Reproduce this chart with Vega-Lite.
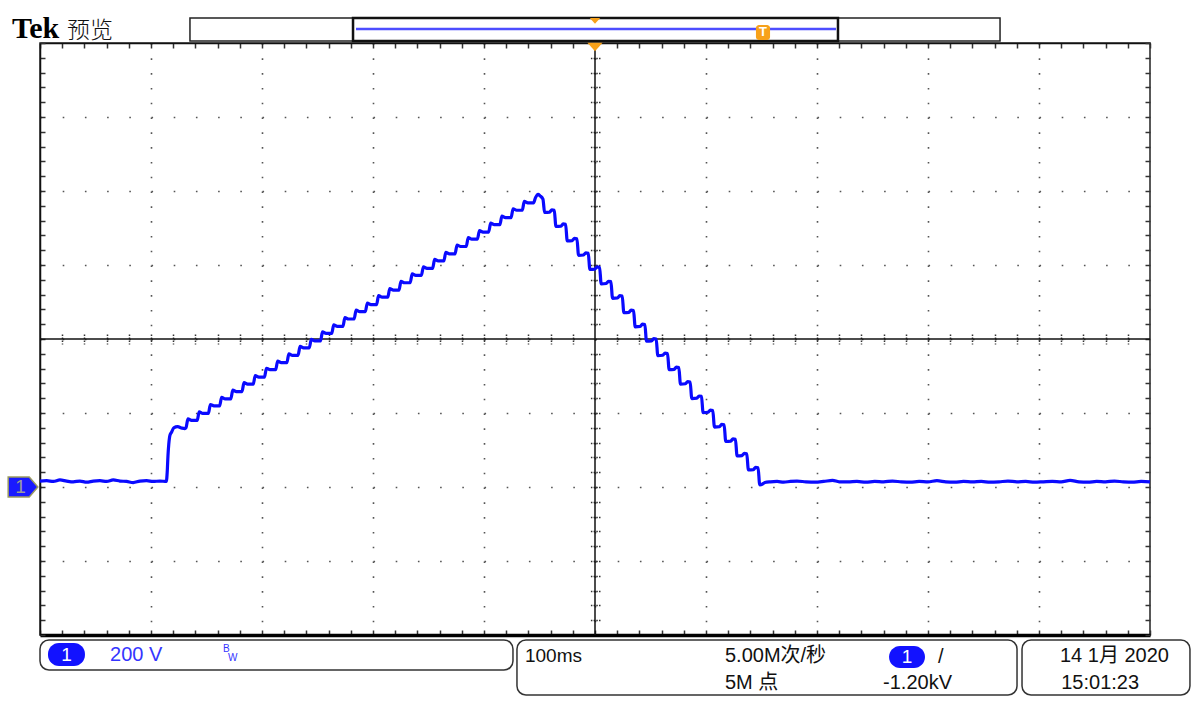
{
  "$schema": "https://vega.github.io/schema/vega-lite/v6.json",
  "width": 1110,
  "height": 592,
  "autosize": {"type": "none"},
  "padding": {"left": 40, "top": 43, "right": 50, "bottom": 84},
  "background": "white",
  "config": {"view": {"stroke": "#222", "strokeWidth": 1.5}},
  "datasets": {
    "trace": [
      {"t": -500, "v": 16}, {"t": -494, "v": 17}, {"t": -488, "v": 15}, {"t": -482, "v": 19}, {"t": -476, "v": 16},
      {"t": -470, "v": 14}, {"t": -464, "v": 16}, {"t": -458, "v": 13}, {"t": -452, "v": 16}, {"t": -446, "v": 17},
      {"t": -440, "v": 15}, {"t": -434, "v": 19}, {"t": -428, "v": 16}, {"t": -422, "v": 15}, {"t": -416, "v": 12},
      {"t": -410, "v": 16}, {"t": -404, "v": 17}, {"t": -398, "v": 15}, {"t": -392, "v": 16}, {"t": -386.2, "v": 15},
      {"t": -385.4, "v": 40}, {"t": -384.7, "v": 85}, {"t": -384, "v": 115}, {"t": -382.9, "v": 140}, {"t": -381.5, "v": 148},
      {"t": -379.5, "v": 160}, {"t": -376, "v": 163}, {"t": -372, "v": 159}, {"t": -369.5, "v": 158},
      {"t": -368.5, "v": 160}, {"t": -366.7, "v": 184}, {"t": -363.5, "v": 180},
      {"t": -358.4, "v": 180}, {"t": -356.6, "v": 203}, {"t": -353.4, "v": 199},
      {"t": -348.3, "v": 199}, {"t": -346.5, "v": 223}, {"t": -343.3, "v": 219},
      {"t": -338.2, "v": 219}, {"t": -336.4, "v": 242}, {"t": -333.2, "v": 238},
      {"t": -328.1, "v": 238}, {"t": -326.3, "v": 262}, {"t": -323.1, "v": 258},
      {"t": -318, "v": 258}, {"t": -316.2, "v": 282}, {"t": -313, "v": 278},
      {"t": -307.9, "v": 278}, {"t": -306.1, "v": 301}, {"t": -302.9, "v": 297},
      {"t": -297.8, "v": 297}, {"t": -296, "v": 321}, {"t": -292.8, "v": 317},
      {"t": -287.7, "v": 317}, {"t": -285.9, "v": 340}, {"t": -282.7, "v": 336},
      {"t": -277.6, "v": 336}, {"t": -275.8, "v": 360}, {"t": -272.6, "v": 356},
      {"t": -267.5, "v": 356}, {"t": -265.7, "v": 380}, {"t": -262.5, "v": 376},
      {"t": -257.4, "v": 376}, {"t": -255.6, "v": 399}, {"t": -252.4, "v": 395},
      {"t": -247.3, "v": 395}, {"t": -245.5, "v": 419}, {"t": -242.3, "v": 415},
      {"t": -237.2, "v": 415}, {"t": -235.4, "v": 438}, {"t": -232.2, "v": 434},
      {"t": -227.1, "v": 434}, {"t": -225.3, "v": 458}, {"t": -222.1, "v": 454},
      {"t": -217, "v": 454}, {"t": -215.2, "v": 478}, {"t": -212, "v": 474},
      {"t": -206.9, "v": 474}, {"t": -205.1, "v": 497}, {"t": -201.9, "v": 493},
      {"t": -196.8, "v": 493}, {"t": -195, "v": 517}, {"t": -191.8, "v": 513},
      {"t": -186.7, "v": 513}, {"t": -184.9, "v": 536}, {"t": -181.7, "v": 532},
      {"t": -176.6, "v": 532}, {"t": -174.8, "v": 556}, {"t": -171.6, "v": 552},
      {"t": -166.5, "v": 552}, {"t": -164.7, "v": 576}, {"t": -161.5, "v": 572},
      {"t": -156.4, "v": 572}, {"t": -154.6, "v": 595}, {"t": -151.4, "v": 591},
      {"t": -146.3, "v": 591}, {"t": -144.5, "v": 615}, {"t": -141.3, "v": 611},
      {"t": -136.2, "v": 611}, {"t": -134.4, "v": 634}, {"t": -131.2, "v": 630},
      {"t": -126.1, "v": 630}, {"t": -124.3, "v": 654}, {"t": -121.1, "v": 650},
      {"t": -116, "v": 650}, {"t": -114.2, "v": 674}, {"t": -111, "v": 670},
      {"t": -105.9, "v": 670}, {"t": -104.1, "v": 693}, {"t": -100.9, "v": 689},
      {"t": -95.8, "v": 689}, {"t": -94, "v": 713}, {"t": -90.8, "v": 709},
      {"t": -85.7, "v": 709}, {"t": -83.9, "v": 732}, {"t": -80.7, "v": 728},
      {"t": -75.6, "v": 728}, {"t": -73.8, "v": 752}, {"t": -70.6, "v": 748},
      {"t": -65.5, "v": 748}, {"t": -63.7, "v": 772}, {"t": -60.5, "v": 768},
      {"t": -55.4, "v": 768}, {"t": -53.6, "v": 782}, {"t": -51.3, "v": 791}, {"t": -49.5, "v": 787},
      {"t": -46.9, "v": 778}, {"t": -45.4, "v": 742}, {"t": -40.9, "v": 743}, {"t": -38.9, "v": 749},
      {"t": -36.7, "v": 748}, {"t": -35.2, "v": 704}, {"t": -30.7, "v": 705}, {"t": -28.7, "v": 711},
      {"t": -26.5, "v": 710}, {"t": -25, "v": 665}, {"t": -20.5, "v": 666}, {"t": -18.5, "v": 672},
      {"t": -16.3, "v": 671}, {"t": -14.8, "v": 626}, {"t": -10.3, "v": 627}, {"t": -8.3, "v": 633},
      {"t": -6.1, "v": 632}, {"t": -4.6, "v": 588}, {"t": -0.1, "v": 589}, {"t": 1.9, "v": 595},
      {"t": 4.1, "v": 594}, {"t": 5.6, "v": 549}, {"t": 10.1, "v": 550}, {"t": 12.1, "v": 556},
      {"t": 14.3, "v": 555}, {"t": 15.8, "v": 510}, {"t": 20.3, "v": 511}, {"t": 22.3, "v": 517},
      {"t": 24.5, "v": 516}, {"t": 26, "v": 471}, {"t": 30.5, "v": 472}, {"t": 32.5, "v": 478},
      {"t": 34.7, "v": 477}, {"t": 36.2, "v": 433}, {"t": 40.7, "v": 434}, {"t": 42.7, "v": 440},
      {"t": 44.9, "v": 439}, {"t": 46.4, "v": 394}, {"t": 50.9, "v": 395}, {"t": 52.9, "v": 401},
      {"t": 55.1, "v": 400}, {"t": 56.6, "v": 355}, {"t": 61.1, "v": 356}, {"t": 63.1, "v": 362},
      {"t": 65.3, "v": 361}, {"t": 66.8, "v": 317}, {"t": 71.3, "v": 318}, {"t": 73.3, "v": 324},
      {"t": 75.5, "v": 323}, {"t": 77, "v": 278}, {"t": 81.5, "v": 279}, {"t": 83.5, "v": 285},
      {"t": 85.7, "v": 284}, {"t": 87.2, "v": 239}, {"t": 91.7, "v": 240}, {"t": 93.7, "v": 246},
      {"t": 95.9, "v": 245}, {"t": 97.4, "v": 201}, {"t": 101.9, "v": 202}, {"t": 103.9, "v": 208},
      {"t": 106.1, "v": 207}, {"t": 107.6, "v": 162}, {"t": 112.1, "v": 163}, {"t": 114.1, "v": 169},
      {"t": 116.3, "v": 168}, {"t": 117.8, "v": 123}, {"t": 122.3, "v": 124}, {"t": 124.3, "v": 130},
      {"t": 126.5, "v": 129}, {"t": 128, "v": 84}, {"t": 132.5, "v": 85}, {"t": 134.5, "v": 91},
      {"t": 136.7, "v": 90}, {"t": 138.2, "v": 46}, {"t": 142.7, "v": 47}, {"t": 144.7, "v": 53},
      {"t": 146.9, "v": 52}, {"t": 148.4, "v": 6}, {"t": 151, "v": 8}, {"t": 153, "v": 12},
      {"t": 158, "v": 14}, {"t": 164, "v": 15}, {"t": 170, "v": 13}, {"t": 176, "v": 15}, {"t": 182, "v": 16},
      {"t": 190, "v": 14}, {"t": 198, "v": 13}, {"t": 206, "v": 15}, {"t": 214, "v": 18}, {"t": 220, "v": 14},
      {"t": 228, "v": 14}, {"t": 236, "v": 15}, {"t": 244, "v": 13}, {"t": 252, "v": 15}, {"t": 260, "v": 14},
      {"t": 268, "v": 16}, {"t": 276, "v": 14}, {"t": 284, "v": 13}, {"t": 292, "v": 15}, {"t": 300, "v": 14},
      {"t": 308, "v": 17}, {"t": 316, "v": 14}, {"t": 324, "v": 13}, {"t": 332, "v": 15}, {"t": 340, "v": 14},
      {"t": 348, "v": 15}, {"t": 356, "v": 13}, {"t": 364, "v": 14}, {"t": 372, "v": 16}, {"t": 380, "v": 14},
      {"t": 388, "v": 15}, {"t": 396, "v": 13}, {"t": 404, "v": 14}, {"t": 412, "v": 15}, {"t": 420, "v": 14},
      {"t": 428, "v": 18}, {"t": 436, "v": 14}, {"t": 444, "v": 13}, {"t": 452, "v": 15}, {"t": 460, "v": 14},
      {"t": 468, "v": 16}, {"t": 476, "v": 14}, {"t": 484, "v": 13}, {"t": 492, "v": 15}, {"t": 500, "v": 14}
    ]
  },
  "resolve": {"axis": {"x": "independent", "y": "independent"}},
  "layer": [
    {
      "data": {"values": [{}]},
      "mark": {"type": "rule", "color": "#111", "strokeWidth": 1.5},
      "encoding": {
        "x": {"datum": 0, "type": "quantitative", "scale": {"domain": [-500, 500], "nice": false, "zero": false},
          "axis": {"orient": "top", "title": null, "labels": false, "grid": false, "domain": true, "domainColor": "#111", "domainWidth": 1.5,
            "ticks": true, "tickSize": -5, "tickColor": "#333", "tickWidth": 1.5,
            "values": [-500,-480,-460,-440,-420,-400,-380,-360,-340,-320,-300,-280,-260,-240,-220,-200,-180,-160,-140,-120,-100,-80,-60,-40,-20,0,20,40,60,80,100,120,140,160,180,200,220,240,260,280,300,320,340,360,380,400,420,440,460,480,500]}},
        "y": {"datum": -400, "type": "quantitative", "scale": {"domain": [-400, 1200], "nice": false, "zero": false},
          "axis": {"orient": "right", "title": null, "labels": false, "grid": false, "domain": false,
            "ticks": true, "tickSize": -5, "tickColor": "#333", "tickWidth": 1.5,
            "values": [-400,-360,-320,-280,-240,-200,-160,-120,-80,-40,0,40,80,120,160,200,240,280,320,360,400,440,480,520,560,600,640,680,720,760,800,840,880,920,960,1000,1040,1080,1120,1160,1200]}},
        "y2": {"datum": 1200}
      }
    },
    {
      "data": {"values": [{}]},
      "mark": {"type": "rule", "color": "#111", "strokeWidth": 1.5},
      "encoding": {
        "x": {"datum": -500, "type": "quantitative",
          "axis": {"orient": "bottom", "offset": -301, "title": null, "labels": false, "grid": false, "domain": false,
            "ticks": true, "tickSize": 10, "tickColor": "#333", "tickWidth": 1.5, "tickDash": [1.5, 1.5],
            "values": [-480,-460,-440,-420,-400,-380,-360,-340,-320,-300,-280,-260,-240,-220,-200,-180,-160,-140,-120,-100,-80,-60,-40,-20,20,40,60,80,100,120,140,160,180,200,220,240,260,280,300,320,340,360,380,400,420,440,460,480]}},
        "x2": {"datum": 500},
        "y": {"datum": 400, "type": "quantitative",
          "axis": {"orient": "left", "offset": -560, "title": null, "labels": false, "grid": false, "domain": false,
            "ticks": true, "tickSize": 10, "tickColor": "#333", "tickWidth": 1.5, "tickDash": [1.5, 1.2],
            "values": [-360,-320,-280,-240,-200,-160,-120,-80,-40,0,40,80,120,160,200,240,280,320,360,440,480,520,560,600,640,680,720,760,800,840,880,920,960,1000,1040,1080,1120,1160]}}
      }
    },
    {
      "data": {"name": "trace"},
      "mark": {"type": "line", "color": "#0a0aff", "strokeWidth": 3.2, "strokeJoin": "round", "interpolate": "monotone"},
      "encoding": {
        "x": {"field": "t", "type": "quantitative",
          "axis": {"orient": "bottom", "title": null, "labels": false, "domain": true, "domainColor": "#000", "domainWidth": 3.5,
            "ticks": true, "tickSize": -5, "tickColor": "#333", "tickWidth": 1.5,
            "grid": true, "gridColor": "#555", "gridWidth": 1.6, "gridDash": [1.6, 13.2],
            "gridOpacity": {"condition": {"test": "datum.value % 100 === 0 && datum.value > -500 && datum.value < 500", "value": 1}, "value": 0},
            "values": [-500,-480,-460,-440,-420,-400,-380,-360,-340,-320,-300,-280,-260,-240,-220,-200,-180,-160,-140,-120,-100,-80,-60,-40,-20,0,20,40,60,80,100,120,140,160,180,200,220,240,260,280,300,320,340,360,380,400,420,440,460,480,500]}},
        "y": {"field": "v", "type": "quantitative",
          "axis": {"orient": "left", "title": null, "labels": false, "domain": true, "domainColor": "#111", "domainWidth": 1.5,
            "ticks": true, "tickSize": -5, "tickColor": "#333", "tickWidth": 1.5,
            "grid": true, "gridColor": "#555", "gridWidth": 1.6, "gridDash": [1.6, 20.6],
            "gridOpacity": {"condition": {"test": "datum.value % 200 === 0 && datum.value > -400 && datum.value < 1200", "value": 1}, "value": 0},
            "values": [-400,-360,-320,-280,-240,-200,-160,-120,-80,-40,0,40,80,120,160,200,240,280,320,360,400,440,480,520,560,600,640,680,720,760,800,840,880,920,960,1000,1040,1080,1120,1160,1200]}}
      }
    },
    {
      "data": {"values": [{}]},
      "mark": {"type": "rect", "fill": "white", "stroke": "#222", "strokeWidth": 1.5},
      "encoding": {"x": {"datum": -364.9, "type": "quantitative", "axis": null}, "x2": {"datum": 364.9},
        "y": {"datum": 1267.6, "type": "quantitative", "axis": null}, "y2": {"datum": 1205.4}}
    },
    {
      "data": {"values": [{}]},
      "mark": {"type": "rect", "fill": "white", "fillOpacity": 0, "stroke": "#111", "strokeWidth": 2.5},
      "encoding": {"x": {"datum": -218.0, "type": "quantitative", "axis": null}, "x2": {"datum": 218.9},
        "y": {"datum": 1267.6, "type": "quantitative", "axis": null}, "y2": {"datum": 1205.4}}
    },
    {
      "data": {"values": [{}]},
      "mark": {"type": "rule", "color": "#4d4dff", "strokeWidth": 2.5},
      "encoding": {"x": {"datum": -215.3, "type": "quantitative", "axis": null}, "x2": {"datum": 217.1},
        "y": {"datum": 1237.8, "type": "quantitative", "axis": null}}
    },
    {
      "data": {"values": [{}]},
      "mark": {"type": "point", "shape": "M -1 -0.55 L 1 -0.55 L 0 0.55 Z", "filled": true, "color": "#f7a11a", "opacity": 1, "size": 110},
      "encoding": {"x": {"datum": 0, "type": "quantitative", "axis": null}, "y": {"datum": 1259.5, "type": "quantitative", "axis": null}}
    },
    {
      "data": {"values": [{}]},
      "mark": {"type": "rect", "fill": "#f7a11a", "cornerRadius": 3},
      "encoding": {"x": {"datum": 145.0, "type": "quantitative", "axis": null}, "x2": {"datum": 157.7},
        "y": {"datum": 1248.6, "type": "quantitative", "axis": null}, "y2": {"datum": 1208.1}}
    },
    {
      "data": {"values": [{}]},
      "mark": {"type": "text", "text": "T", "font": "Liberation Sans", "fontWeight": "bold", "fontSize": 13, "color": "white", "align": "center", "baseline": "middle"},
      "encoding": {"x": {"datum": 151.4, "type": "quantitative", "axis": null}, "y": {"datum": 1228.4, "type": "quantitative", "axis": null}}
    },
    {
      "data": {"values": [{}]},
      "mark": {"type": "point", "shape": "M -1 -0.55 L 1 -0.55 L 0 0.55 Z", "filled": true, "color": "#f7a11a", "opacity": 1, "size": 230},
      "encoding": {"x": {"datum": 0, "type": "quantitative", "axis": null}, "y": {"datum": 1189.2, "type": "quantitative", "axis": null}}
    },
    {
      "data": {"values": [{}]},
      "mark": {"type": "text", "text": "Tek", "font": "Liberation Serif", "fontWeight": "bold", "fontSize": 30, "color": "#000", "align": "left", "baseline": "alphabetic"},
      "encoding": {"x": {"datum": -525.2, "type": "quantitative", "axis": null}, "y": {"datum": 1212.5, "type": "quantitative", "axis": null}}
    },
    {
      "data": {"values": [{}]},
      "mark": {"type": "text", "text": "预览", "font": "Noto Sans CJK SC", "fontWeight": 300, "fontSize": 23, "color": "#111", "align": "left", "baseline": "alphabetic"},
      "encoding": {"x": {"datum": -475.6, "type": "quantitative", "axis": null}, "y": {"datum": 1214.5, "type": "quantitative", "axis": null}}
    },
    {
      "data": {"values": [{}]},
      "mark": {"type": "point", "shape": "M -1 -0.68 L 0.42 -0.68 L 1 0 L 0.42 0.68 L -1 0.68 Z", "filled": true, "fill": "#1a1aff", "stroke": "#9a9a60", "strokeWidth": 1.5, "opacity": 1, "size": 880},
      "encoding": {"x": {"datum": -515.3, "type": "quantitative", "axis": null}, "y": {"datum": 0, "type": "quantitative", "axis": null}}
    },
    {
      "data": {"values": [{}]},
      "mark": {"type": "text", "text": "1", "font": "Liberation Sans", "fontSize": 19, "color": "#9a9a9a", "align": "center", "baseline": "middle"},
      "encoding": {"x": {"datum": -517.5, "type": "quantitative", "axis": null}, "y": {"datum": 0, "type": "quantitative", "axis": null}}
    },
    {
      "data": {"values": [{}]},
      "mark": {"type": "rect", "fill": "white", "fillOpacity": 0, "stroke": "#333", "strokeWidth": 1.5, "cornerRadius": 9},
      "encoding": {"x": {"datum": -500, "type": "quantitative", "axis": null}, "x2": {"datum": -73.9},
        "y": {"datum": -413.5, "type": "quantitative", "axis": null}, "y2": {"datum": -494.6}}
    },
    {
      "data": {"values": [{}]},
      "mark": {"type": "rect", "fill": "white", "fillOpacity": 0, "stroke": "#333", "strokeWidth": 1.5, "cornerRadius": 9},
      "encoding": {"x": {"datum": -70.3, "type": "quantitative", "axis": null}, "x2": {"datum": 380.2},
        "y": {"datum": -413.5, "type": "quantitative", "axis": null}, "y2": {"datum": -562.2}}
    },
    {
      "data": {"values": [{}]},
      "mark": {"type": "rect", "fill": "white", "fillOpacity": 0, "stroke": "#333", "strokeWidth": 1.5, "cornerRadius": 9},
      "encoding": {"x": {"datum": 384.7, "type": "quantitative", "axis": null}, "x2": {"datum": 536.0},
        "y": {"datum": -413.5, "type": "quantitative", "axis": null}, "y2": {"datum": -562.2}}
    },
    {
      "data": {"values": [{}]},
      "mark": {"type": "rect", "fill": "#1212ff", "cornerRadius": 11},
      "encoding": {"x": {"datum": -492.8, "type": "quantitative", "axis": null}, "x2": {"datum": -459.5},
        "y": {"datum": -421.6, "type": "quantitative", "axis": null}, "y2": {"datum": -483.8}}
    },
    {
      "data": {"values": [{}]},
      "mark": {"type": "text", "text": "1", "font": "Liberation Sans", "fontSize": 19, "color": "white", "align": "center", "baseline": "middle"},
      "encoding": {"x": {"datum": -476.1, "type": "quantitative", "axis": null}, "y": {"datum": -454.1, "type": "quantitative", "axis": null}}
    },
    {
      "data": {"values": [{}]},
      "mark": {"type": "text", "text": "200 V", "font": "Liberation Sans", "fontSize": 20, "color": "#3535ff", "align": "left", "baseline": "middle"},
      "encoding": {"x": {"datum": -436.9, "type": "quantitative", "axis": null}, "y": {"datum": -454.1, "type": "quantitative", "axis": null}}
    },
    {
      "data": {"values": [{}]},
      "mark": {"type": "text", "text": "B", "font": "Liberation Sans", "fontSize": 10, "color": "#3535ff", "align": "left", "baseline": "middle"},
      "encoding": {"x": {"datum": -335.1, "type": "quantitative", "axis": null}, "y": {"datum": -437.8, "type": "quantitative", "axis": null}}
    },
    {
      "data": {"values": [{}]},
      "mark": {"type": "text", "text": "W", "font": "Liberation Sans", "fontSize": 10, "color": "#3535ff", "align": "left", "baseline": "middle"},
      "encoding": {"x": {"datum": -330.6, "type": "quantitative", "axis": null}, "y": {"datum": -462.2, "type": "quantitative", "axis": null}}
    },
    {
      "data": {"values": [{}]},
      "mark": {"type": "text", "text": "100ms", "font": "Liberation Sans", "fontSize": 19, "color": "#111", "align": "left", "baseline": "middle"},
      "encoding": {"x": {"datum": -63.1, "type": "quantitative", "axis": null}, "y": {"datum": -456.8, "type": "quantitative", "axis": null}}
    },
    {
      "data": {"values": [{}]},
      "mark": {"type": "text", "text": "5.00M次/秒", "font": "'Liberation Sans', 'Noto Sans CJK SC', sans-serif", "fontSize": 20, "color": "#111", "align": "left", "baseline": "middle"},
      "encoding": {"x": {"datum": 117.1, "type": "quantitative", "axis": null}, "y": {"datum": -456.8, "type": "quantitative", "axis": null}}
    },
    {
      "data": {"values": [{}]},
      "mark": {"type": "text", "text": "5M 点", "font": "'Liberation Sans', 'Noto Sans CJK SC', sans-serif", "fontSize": 20, "color": "#111", "align": "left", "baseline": "middle"},
      "encoding": {"x": {"datum": 117.1, "type": "quantitative", "axis": null}, "y": {"datum": -529.7, "type": "quantitative", "axis": null}}
    },
    {
      "data": {"values": [{}]},
      "mark": {"type": "rect", "fill": "#1212ff", "cornerRadius": 11},
      "encoding": {"x": {"datum": 264.9, "type": "quantitative", "axis": null}, "x2": {"datum": 297.3},
        "y": {"datum": -429.7, "type": "quantitative", "axis": null}, "y2": {"datum": -489.2}}
    },
    {
      "data": {"values": [{}]},
      "mark": {"type": "text", "text": "1", "font": "Liberation Sans", "fontSize": 19, "color": "white", "align": "center", "baseline": "middle"},
      "encoding": {"x": {"datum": 281.1, "type": "quantitative", "axis": null}, "y": {"datum": -459.5, "type": "quantitative", "axis": null}}
    },
    {
      "data": {"values": [{}]},
      "mark": {"type": "text", "text": "/", "font": "Liberation Sans", "fontSize": 20, "color": "#111", "align": "left", "baseline": "middle"},
      "encoding": {"x": {"datum": 309.0, "type": "quantitative", "axis": null}, "y": {"datum": -459.5, "type": "quantitative", "axis": null}}
    },
    {
      "data": {"values": [{}]},
      "mark": {"type": "text", "text": "-1.20kV", "font": "Liberation Sans", "fontSize": 20, "color": "#111", "align": "left", "baseline": "middle"},
      "encoding": {"x": {"datum": 259.5, "type": "quantitative", "axis": null}, "y": {"datum": -529.7, "type": "quantitative", "axis": null}}
    },
    {
      "data": {"values": [{}]},
      "mark": {"type": "text", "text": "14 1月 2020", "font": "'Liberation Sans', 'Noto Sans CJK SC', sans-serif", "fontSize": 20, "color": "#111", "align": "left", "baseline": "middle"},
      "encoding": {"x": {"datum": 418.9, "type": "quantitative", "axis": null}, "y": {"datum": -456.8, "type": "quantitative", "axis": null}}
    },
    {
      "data": {"values": [{}]},
      "mark": {"type": "text", "text": "15:01:23", "font": "Liberation Sans", "fontSize": 20, "color": "#111", "align": "left", "baseline": "middle"},
      "encoding": {"x": {"datum": 420.0, "type": "quantitative", "axis": null}, "y": {"datum": -529.7, "type": "quantitative", "axis": null}}
    }
  ]
}
